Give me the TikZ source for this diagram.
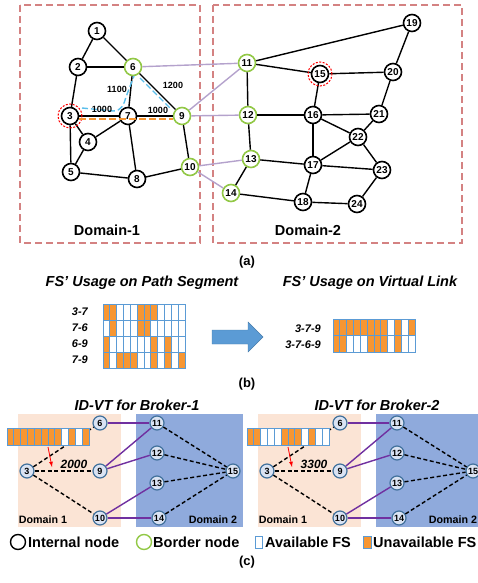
\documentclass[tikz,border=0pt]{standalone}
\usepackage{fontspec}
\setmainfont{Liberation Sans}
\usetikzlibrary{calc}

\definecolor{boxred}{RGB}{212,130,130}
\definecolor{bgreen}{RGB}{146,200,70}
\definecolor{lavender}{RGB}{180,162,204}
\definecolor{pathcyan}{RGB}{90,190,235}
\definecolor{fsorange}{RGB}{247,150,50}
\definecolor{fsblue}{RGB}{91,155,213}
\definecolor{peach}{RGB}{251,228,213}
\definecolor{dblue}{RGB}{143,170,220}
\definecolor{vtpurple}{RGB}{112,48,160}
\definecolor{vtfill}{RGB}{218,227,243}
\definecolor{vtline}{RGB}{65,113,156}

% one row of frequency slots: x, y (top), height, pattern (1 = used)
\newcommand{\fsrow}[4]{%
  \foreach \v [count=\i from 0] in {#4} {
    \ifnum\v=1 \def\fc{fsorange}\else\def\fc{white}\fi
    \draw[fscell, fill=\fc] ({#1+\i*6.85},#2) rectangle ++(6.85,#3);
  }
}

\begin{document}
\begin{tikzpicture}[x=1pt, y=-1pt, >=latex,
    inode/.style={circle, draw=black, line width=1.6pt, fill=white, inner sep=0pt,
        minimum size=17pt, font=\bfseries\fontsize{10}{12}\selectfont},
    bnode/.style={inode, draw=bgreen},
    plink/.style={line width=1.4pt},
    ilink/.style={lavender, line width=1.4pt},
    domainbox/.style={boxred, line width=1.6pt, dash pattern=on 7pt off 4pt},
    lbl/.style={font=\bfseries\fontsize{14.5}{16}\selectfont},
    ttl/.style={font=\bfseries\itshape\fontsize{14.5}{16}\selectfont},
    caplbl/.style={font=\bfseries\fontsize{13}{15}\selectfont},
    wlbl/.style={font=\bfseries\fontsize{9}{10}\selectfont, inner sep=0.5pt},
    rowlbl/.style={font=\bfseries\itshape\fontsize{11}{12}\selectfont, anchor=east, inner sep=0pt},
    fscell/.style={draw=fsblue, line width=1pt},
    vnode/.style={circle, draw=vtline, fill=vtfill, line width=1.2pt, inner sep=0pt,
        minimum size=14pt, font=\bfseries\fontsize{9}{10}\selectfont},
    vtdash/.style={line width=1.4pt, dash pattern=on 4pt off 2.5pt},
    vtlink/.style={vtpurple, line width=1.4pt}]

    \useasboundingbox (0,0) rectangle (478,583);

    % (a) two domains
    \draw[domainbox] (20,5) rectangle (200,243);
    \draw[domainbox] (213,5) rectangle (462,243);

    \foreach \n/\x/\y in {1/97/31, 2/78/67, 3/70/116, 4/88/142, 5/71/172, 7/128/116, 8/137/179,
        15/320/74, 16/313/115, 17/313/165, 18/303/202, 19/412/23, 20/393/72, 21/379/114,
        22/358/137, 23/382/170, 24/357/204}
        \node[inode] (n\n) at (\x,\y) {\n};
    \foreach \n/\x/\y in {6/133/67, 9/182/116, 10/190/167, 11/247/63, 12/248/115, 13/251/159, 14/231/193}
        \node[bnode] (n\n) at (\x,\y) {\n};

    \foreach \a/\b in {1/2,1/6,2/6,2/3,6/7,6/9,3/7,7/9,3/4,3/5,4/7,4/5,5/8,7/8,8/10,9/10,
        11/19,11/15,11/12,15/20,15/16,19/20,20/21,12/16,16/21,16/22,16/17,21/22,22/17,
        22/23,17/23,12/13,13/17,13/14,14/18,17/18,18/24,24/23}
        \draw[plink] (n\a) -- (n\b);
    \foreach \a/\b in {6/11,9/11,9/12,10/13,10/14}
        \draw[ilink] (n\a) -- (n\b);

    % source and destination
    \draw[red, line width=1pt, dash pattern=on 2pt off 1.5pt] (n3) circle (12pt);
    \draw[red, line width=1pt, dash pattern=on 2pt off 1.5pt] (n15) circle (12pt);

    % candidate paths 3-7-6-9 and 3-7-9
    \draw[pathcyan, line width=1.4pt, dash pattern=on 6pt off 3pt]
        (82,108) -- (113,111) .. controls (122,111) and (124,104) .. (126,97) -- (134,76);
    \draw[pathcyan, line width=1.4pt, dash pattern=on 6pt off 3pt] (140,78) -- (171,109);
    \draw[fsorange, line width=1.4pt, dash pattern=on 7pt off 3pt]
        ($(n3.east)+(0,3)$) -- ($(n9.west)+(0,3)$);

    \node[wlbl] (w37) at (102,109) {1000};
    \node[wlbl] (w79) at (158,110) {1000};
    \node[wlbl] (w67) at (117,89) {1100};
    \node[wlbl] (w69) at (173,85) {1200};

    \node[lbl] (dom1) at (107,230) {Domain-1};
    \node[lbl] (dom2) at (308,230) {Domain-2};
    \node[caplbl] (capa) at (247,262) {(a)};

    % (b) slot usage
    \node[ttl] (segttl) at (142,283) {FS' Usage on Path Segment};
    \node[ttl] (vlttl) at (370,283) {FS' Usage on Virtual Link};

    \fsrow{103}{304}{16}{1,1,0,0,0,1,1,1,0,0,0,0}
    \fsrow{103}{320}{16}{0,1,0,0,0,1,1,0,0,0,0,0}
    \fsrow{103}{336}{16}{1,0,0,0,0,0,0,1,0,1,0,0}
    \fsrow{103}{352}{16}{1,0,1,1,1,0,0,1,0,1,0,1}
    \node[rowlbl] (r37) at (88,312) {3-7};
    \node[rowlbl] (r76) at (88,328) {7-6};
    \node[rowlbl] (r69) at (88,344) {6-9};
    \node[rowlbl] (r79) at (88,360) {7-9};

    \fill[fsblue, draw=fsblue!80!black, line width=0.4pt]
        (212,330) -- (248,330) -- (248,322) -- (263,337) -- (248,352) -- (248,344) -- (212,344) -- cycle;

    \fsrow{333}{319}{16.5}{1,1,1,1,1,1,1,1,0,1,0,1}
    \fsrow{333}{335.5}{16.5}{1,1,0,0,0,1,1,1,0,1,0,0}
    \node[rowlbl] (v379) at (321,329) {3-7-9};
    \node[rowlbl] (v3769) at (321,345) {3-7-6-9};
    \node[caplbl] (capb) at (247,384) {(b)};

    % (c) virtual topologies of the two brokers
    \foreach \p/\dx/\w/\k in {l/0/2000/1, r/240/3300/2} {
        \fill[peach] ({\dx+18},414) rectangle ({\dx+121},527);
        \fill[dblue] ({\dx+136},414) rectangle ({\dx+243},527);
        \node[ttl] (\p ttl) at ({\dx+137},405) {ID-VT for Broker-\k};
        \foreach \n/\x/\y in {3/27/471, 6/100/423, 9/100/471, 10/100/518,
            11/157/423, 12/157/453, 13/157/483, 14/159/518, 15/233/471}
            \node[vnode] (\p\n) at ({\dx+\x},\y) {\n};
        \foreach \a/\b in {3/6,3/9,3/10,11/15,12/15,13/15,14/15}
            \draw[vtdash] (\p\a) -- (\p\b);
        \foreach \a/\b in {6/11,9/11,9/12,10/13,10/14}
            \draw[vtlink] (\p\a) -- (\p\b);
        \node[font=\bfseries\itshape\fontsize{12}{13}\selectfont] (\p w) at ({\dx+74},464) {\w};
        \node[font=\bfseries\fontsize{10.7}{12}\selectfont] (\p d1) at ({\dx+43},520) {Domain 1};
        \node[font=\bfseries\fontsize{10.7}{12}\selectfont] (\p d2) at ({\dx+213},520) {Domain 2};
        \draw[->, red, line width=0.8pt] ({\dx+48},447) -- ({\dx+52},467);
    }
    \fsrow{7}{428}{17}{1,1,1,1,1,1,1,1,0,1,0,1}
    \fsrow{247}{428}{17}{1,1,0,0,0,1,1,1,0,1,0,0}

    % legend
    \node[circle, draw=black, line width=1.4pt, minimum size=15pt, inner sep=0pt] (keyin) at (18,542) {};
    \node[lbl, anchor=west, inner sep=0pt] (keyintxt) at (28,542) {Internal node};
    \node[circle, draw=bgreen, line width=1.4pt, minimum size=15pt, inner sep=0pt] (keybd) at (144,542) {};
    \node[lbl, anchor=west, inner sep=0pt] (keybdtxt) at (153,542) {Border node};
    \draw[fscell, fill=white] (255,536) rectangle (262,548);
    \node[lbl, anchor=west, inner sep=0pt] (keyfree) at (265,542) {Available FS};
    \draw[fscell, fill=fsorange] (363,536) rectangle (371,548);
    \node[lbl, anchor=west, inner sep=0pt] (keyused) at (373,542) {Unavailable FS};
    \node[caplbl] (capc) at (247,562) {(c)};

\end{tikzpicture}
\end{document}
